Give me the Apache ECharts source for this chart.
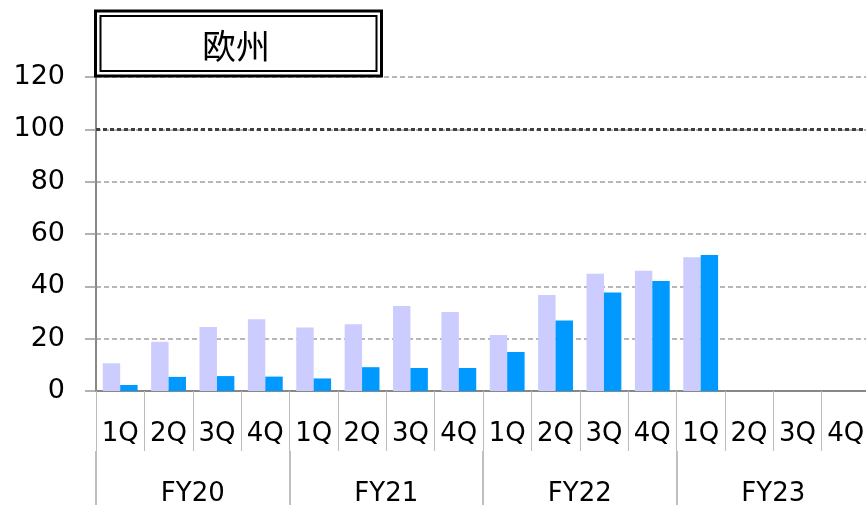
<!DOCTYPE html>
<html>
<head>
<meta charset="utf-8">
<script src="https://cdn.jsdelivr.net/npm/echarts@6/dist/echarts.min.js"></script>
<style>
html, body { margin: 0; padding: 0; background: #fff; }
#main { width: 866px; height: 505px; }
</style>
</head>
<body>
<div id="main"></div>
<script>
var myChart = echarts.init(document.getElementById('main'));

var quarters = ['1Q', '2Q', '3Q', '4Q', '1Q', '2Q', '3Q', '4Q', '1Q', '2Q', '3Q', '4Q', '1Q', '2Q', '3Q', '4Q'];
var years = ['FY20', 'FY21', 'FY22', 'FY23'];
var lightValues = [10.6, 18.8, 24.5, 27.4, 24.3, 25.5, 32.5, 30.2, 21.4, 36.7, 44.8, 46.0, 51.1, null, null, null];
var darkValues = [2.3, 5.4, 5.7, 5.5, 4.8, 9.1, 8.8, 8.8, 14.9, 26.9, 37.6, 42.0, 52.0, null, null, null];
var refLine = 100;
var titleText = '欧州';

var font = '"DejaVu Sans", Verdana, sans-serif';

option = {
	animation: false,
	grid: {
		left: 96,
		right: -4,
		top: 77,
		bottom: 114,
		containLabel: false,
		outerBoundsMode: 'none'
	},
	graphic: [{
		type: 'rect',
		shape: { x: 95.5, y: 11, width: 286, height: 65 },
		style: { fill: '#fff', stroke: '#000', lineWidth: 3 },
		z: 100
	}, {
		type: 'rect',
		shape: { x: 100.5, y: 16, width: 276, height: 55 },
		style: { fill: 'none', stroke: '#000', lineWidth: 2 },
		z: 101
	}, {
		type: 'text',
		x: 236,
		y: 46,
		style: {
			text: titleText,
			font: '34px "Noto Sans CJK JP"',
			fill: '#000',
			align: 'center',
			verticalAlign: 'middle'
		},
		z: 102
	}],
	xAxis: [{
		type: 'category',
		data: quarters,
		position: 'bottom',
		axisLine: { lineStyle: { color: '#888', width: 2 } },
		axisTick: { show: true, interval: 0, length: 60, lineStyle: { color: '#bbb', width: 1 } },
		axisLabel: { interval: 0, hideOverlap: false, margin: 30, fontSize: 26, fontFamily: font, color: '#000' }
	}, {
		type: 'category',
		data: years,
		position: 'bottom',
		offset: 60,
		axisLine: { show: false },
		axisTick: { show: true, interval: 0, length: 60, lineStyle: { color: '#aaa', width: 1.5 } },
		axisLabel: { interval: 0, margin: 30, fontSize: 26, fontFamily: font, color: '#000' }
	}],
	yAxis: {
		type: 'value',
		min: 0,
		max: 120,
		interval: 20,
		axisLine: { show: true, lineStyle: { color: '#888', width: 2 } },
		axisTick: { show: true, length: 11, lineStyle: { color: '#999', width: 1.5 } },
		axisLabel: { margin: 31, fontSize: 27, fontFamily: font, color: '#000' },
		splitLine: { show: true, lineStyle: { color: '#a0a0a0', width: 1.5, type: [5, 3] } }
	},
	series: [{
		type: 'bar',
		xAxisIndex: 0,
		data: lightValues,
		barGap: '0%',
		barCategoryGap: '28%',
		itemStyle: { color: '#ccccff' },
		markLine: {
			silent: true,
			symbol: ['none', 'none'],
			label: { show: false },
			lineStyle: { color: '#404040', width: 3, type: [4, 3] },
			data: [{ yAxis: refLine }]
		}
	}, {
		type: 'bar',
		xAxisIndex: 0,
		data: darkValues,
		itemStyle: { color: '#0099ff' }
	}]
};

myChart.setOption(option);
window.onresize = myChart.resize;
</script>
</body>
</html>
